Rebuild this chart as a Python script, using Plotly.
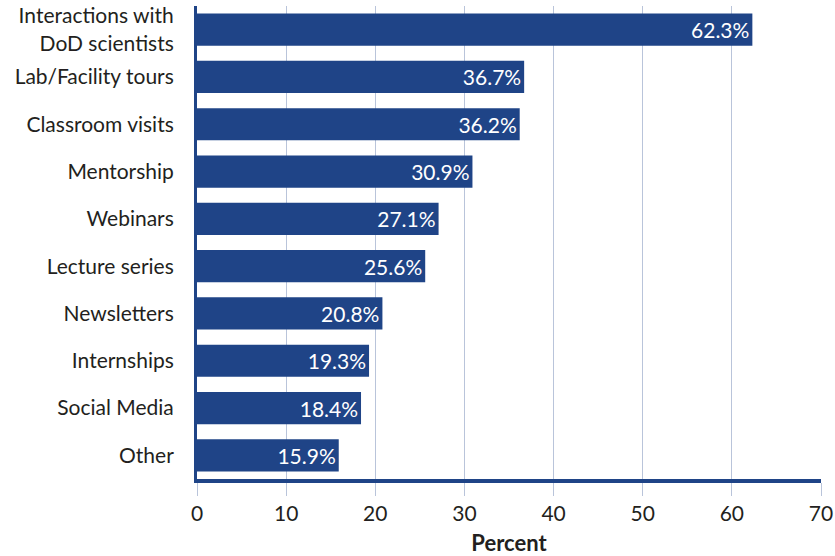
import plotly.graph_objects as go

categories = ["Interactions with<br>DoD scientists", "Lab/Facility tours", "Classroom visits",
              "Mentorship", "Webinars", "Lecture series", "Newsletters", "Internships",
              "Social Media", "Other"]
values = [62.3, 36.7, 36.2, 30.9, 27.1, 25.6, 20.8, 19.3, 18.4, 15.9]
labels = [f"{v:.1f}%" for v in values]
tick_vals = [0, 10, 20, 30, 40, 50, 60, 70]

BLUE = "#1f4487"
FONT = "Lato"
TXT = "#231f20"

fig = go.Figure(go.Bar(
    x=values, y=categories, orientation="h",
    marker=dict(color=BLUE, line=dict(width=0)),
    width=0.68,
    text=labels, textposition="inside", insidetextanchor="end",
    textfont=dict(color="white", size=21, family=FONT),
    cliponaxis=False,
))

fig.update_layout(
    width=835, height=556,
    margin=dict(l=197, r=14, t=6, b=77),
    plot_bgcolor="white", paper_bgcolor="white",
    showlegend=False,
    font=dict(family=FONT, size=21, color=TXT),
    xaxis=dict(
        range=[0, 70], tickvals=tick_vals, showgrid=True, gridcolor="#b9c4da", gridwidth=1.2,
        ticks="outside", ticklen=13, tickcolor="#b9c4da", tickwidth=1.2,
        zeroline=False, showline=True, linecolor=BLUE, linewidth=4,
        tickfont=dict(size=21, color=TXT), automargin=False,
        title=dict(text="<b>Percent</b>", font=dict(size=22, color=TXT), standoff=16),
        fixedrange=True,
    ),
    yaxis=dict(
        autorange="reversed", categoryorder="array", categoryarray=categories,
        showgrid=False, zeroline=False, automargin=False,
        showline=True, linecolor=BLUE, linewidth=3,
        ticks="outside", ticklen=16, tickcolor="rgba(0,0,0,0)",
        tickfont=dict(size=21, color=TXT),
    ),
    bargap=0.32,
)

fig.write_html("out.html")
